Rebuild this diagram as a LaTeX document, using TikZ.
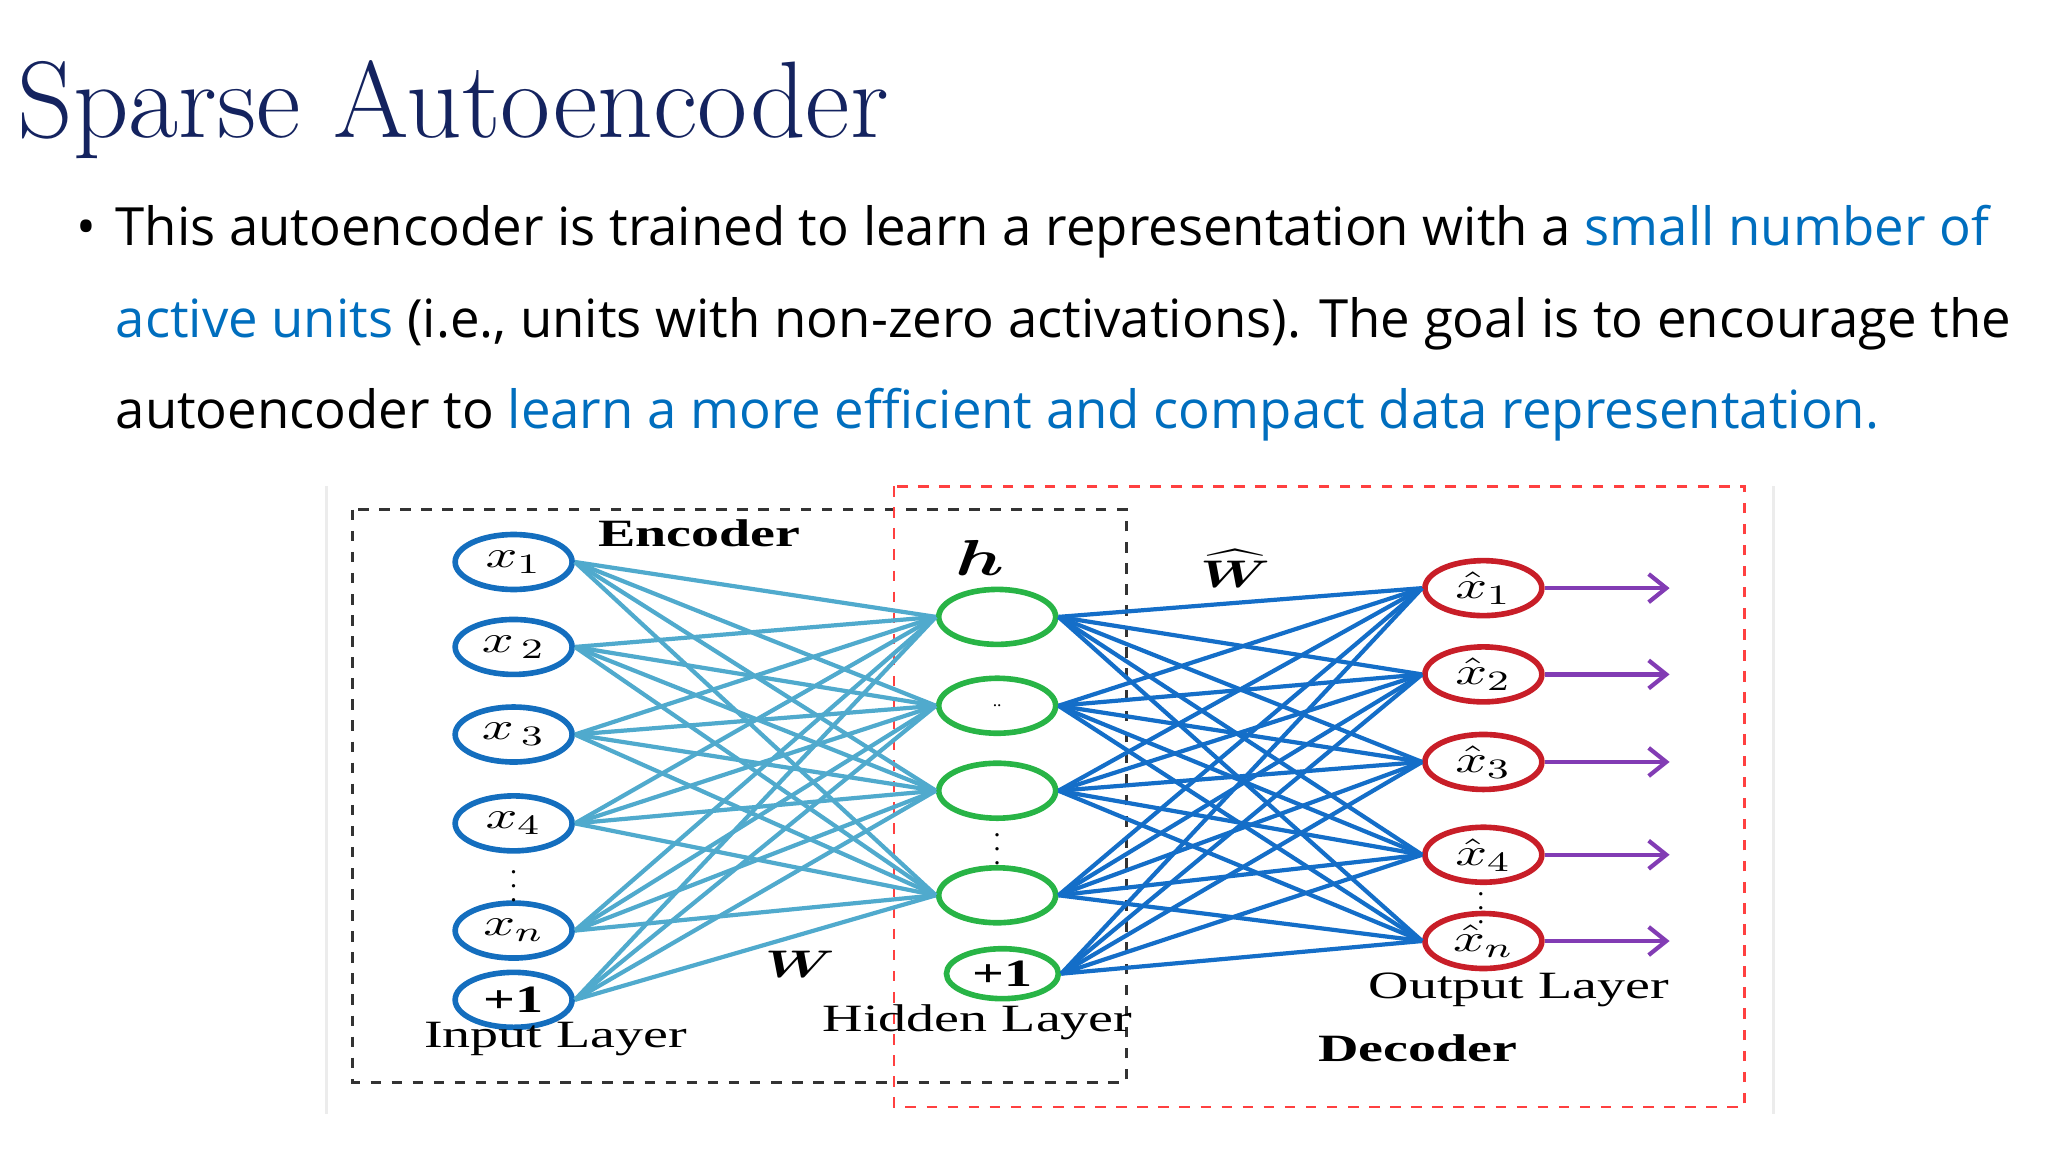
\documentclass[tikz,border=0pt]{standalone}
\usepackage{amsmath}
\usepackage{fontspec}
\setmainfont{Latin Modern Roman}
\newfontfamily\bodyfont{Open Sans}
\newfontfamily\figfont{Liberation Serif}
\usetikzlibrary{shapes.geometric,arrows.meta}
\definecolor{navy}{RGB}{20,35,95}
\definecolor{hl}{RGB}{0,110,190}
\definecolor{encc}{RGB}{80,170,205}
\definecolor{decc}{RGB}{20,110,200}
\definecolor{inblue}{RGB}{20,110,190}
\definecolor{hidgreen}{RGB}{40,180,70}
\definecolor{outred}{RGB}{200,30,40}
\definecolor{outarr}{RGB}{130,60,180}
\newcommand\wide[1]{\scalebox{1.45}[1]{#1}}
\tikzset{
  unit/.style={ellipse,draw,line width=1.6pt,minimum width=1.17cm,minimum height=0.55cm,inner sep=0pt,font=\figfont\fontsize{11}{11}\selectfont},
  inu/.style={unit,draw=inblue},
  hidu/.style={unit,draw=hidgreen},
  outu/.style={unit,draw=outred},
  lab/.style={font=\figfont\fontsize{11}{11}\selectfont},
  body/.style={anchor=base west,inner sep=0pt,font=\bodyfont\fontsize{15}{15}\selectfont}
}
\begin{document}
\begin{tikzpicture}[x=0.01307cm,y=-0.01307cm]
	\useasboundingbox (0,0) rectangle (1567,881.4);
	% title and text
	\node[anchor=base west,inner sep=0pt,text=navy,font=\fontsize{31}{31}\selectfont] (title) at (13,105) {Sparse Autoencoder};
	\node[body] (bul) at (58,188) {\textbullet};
	\node[body] (l1) at (88,188) {This autoencoder is trained to learn a representation with a \textcolor{hl}{small number of}};
	\node[body] (l2) at (88,258) {\textcolor{hl}{active units} (i.e., units with non-zero activations). The goal is to encourage the};
	\node[body] (l3) at (88,328) {autoencoder to \textcolor{hl}{learn a more efficient and compact data representation.}};
	% figure frame
	\draw[gray!15,line width=1pt] (250,372) -- (250,852);
	\draw[gray!15,line width=1pt] (1357,372) -- (1357,852);
	\draw[black!80,dashed,line width=0.8pt] (270,390) rectangle (862,828);
	\draw[red!75,dashed,line width=0.8pt] (684,372) rectangle (1335,847);
	% input layer
	\node[inu] (i1) at (393,430) {\wide{$x_1$}};
	\node[inu] (i2) at (393,495) {\wide{$x_{\,2}$}};
	\node[inu] (i3) at (393,562) {\wide{$x_{\,3}$}};
	\node[inu] (i4) at (393,630) {\wide{$x_4$}};
	\node[inu] (i5) at (393,712) {\wide{$x_n$}};
	\node[inu] (i6) at (393,765) {\wide{\textbf{+1}}};
	% hidden layer
	\node[hidu] (h1) at (763,472) {};
	\node[hidu] (h2) at (763,540) {\tiny ..};
	\node[hidu] (h3) at (763,605) {};
	\node[hidu] (h4) at (763,685) {};
	\node[hidu,minimum height=0.5cm,minimum width=1.12cm] (h5) at (767,745) {\wide{\textbf{+1}}};
	% output layer
	\node[outu] (o1) at (1135,450) {\wide{$\hat{x}_1$}};
	\node[outu] (o2) at (1135,516) {\wide{$\hat{x}_2$}};
	\node[outu] (o3) at (1135,583) {\wide{$\hat{x}_3$}};
	\node[outu] (o4) at (1135,654) {\wide{$\hat{x}_4$}};
	\node[outu] (o5) at (1135,720) {\wide{$\hat{x}_n$}};
	% connections
	\foreach \i in {1,...,6}
		\foreach \j in {1,...,4}
			\draw[encc,line width=1.2pt] (i\i.east) -- (h\j.west);
	\foreach \i in {1,...,5}
		\foreach \j in {1,...,5}
			\draw[decc,line width=1.2pt] (h\i.east) -- (o\j.west);
	\foreach \j in {1,...,5} {
		\coordinate (e\j) at ([xshift=1.25cm]o\j.east);
		\draw[outarr,line width=1.2pt,-{Straight Barb[length=5pt,width=8pt]}] (o\j.east) -- (e\j);
	}
	% dots
	\foreach \p in {(393,670),(763,642),(1133,687)}
		\node[lab,inner sep=0pt,font=\figfont\fontsize{8}{8}\selectfont] at \p {$\vdots$};
	% labels
	\node[lab] (enc) at (535,408) {\wide{\textbf{Encoder}}};
	\node[lab,font=\figfont\fontsize{14}{14}\selectfont] (hl) at (750,427) {\wide{$\boldsymbol{h}$}};
	\node[lab] (wh) at (945,435) {\wide{$\boldsymbol{\widehat{W}}$}};
	\node[lab] (w) at (612,738) {\wide{$\boldsymbol{W}$}};
	\node[lab] (inl) at (425,795) {\wide{Input Layer}};
	\node[lab] (hidl) at (748,782) {\wide{Hidden Layer}};
	\node[lab] (outl) at (1162,757) {\wide{Output Layer}};
	\node[lab] (dec) at (1085,802) {\wide{\textbf{Decoder}}};
\end{tikzpicture}
\end{document}
